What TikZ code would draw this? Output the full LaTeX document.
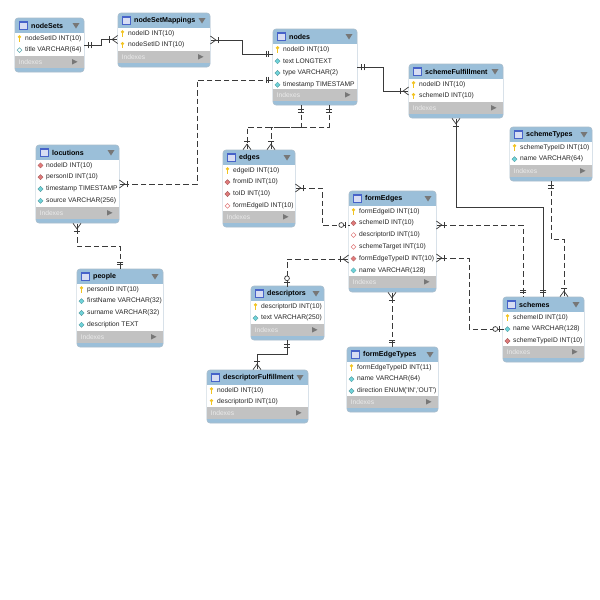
\documentclass[tikz,border=0pt]{standalone}
\usepackage{fontspec}
\usetikzlibrary{arrows.meta}
\newfontfamily\erfont{Liberation Sans}
\definecolor{erblue}{HTML}{9BBFD9}
\definecolor{ergrey}{HTML}{C2C2C2}
\definecolor{eredge}{HTML}{A9BDCB}
\definecolor{erline}{HTML}{3A3A3A}
\definecolor{eraqua}{HTML}{6FD3DA}
\definecolor{erred}{HTML}{E07A7A}
\definecolor{eryellow}{HTML}{F2C320}
\definecolor{ermark}{HTML}{777777}
\definecolor{ericon}{HTML}{4763C9}
\tikzset{
tablebody/.style={shape=rectangle,rounded corners=3pt,fill=erblue,draw=eredge,line width=.6pt,anchor=north west,inner sep=0pt,outer sep=0pt},
tabletitle/.style={anchor=west,inner sep=0pt,text=black,font=\erfont\bfseries\fontsize{7.1}{8}\selectfont},
tablerow/.style={anchor=west,inner sep=0pt,text=black!85,font=\erfont\fontsize{6.7}{8}\selectfont},
tableindex/.style={anchor=west,inner sep=0pt,text=white!92!black,font=\erfont\fontsize{6.7}{8}\selectfont},
strong/.style={draw=erline,line width=.8pt},
weak/.style={draw=erline,line width=.8pt,dash pattern=on 5.5pt off 3pt},
crow/.tip={Bar[width=6.5pt,line width=.7pt,sep=1.5pt] Rectangle[length=5.5pt,width=.7pt,sep=-5.5pt] Straight Barb[reversed,length=5.5pt,width=8pt,line width=.7pt,arc=0,sep=0pt]},
twobars/.tip={Bar[width=6.5pt,line width=.7pt,sep=2pt] Bar[width=6.5pt,line width=.7pt,sep=2.5pt] Rectangle[length=1.5pt,width=.7pt,sep=0pt]},
ringbar/.tip={Circle[open,fill=white,length=5.5pt,line width=.7pt,sep=.8pt] Bar[width=6.5pt,line width=.7pt,sep=2.5pt] Rectangle[length=1pt,width=.7pt,sep=0pt]},
keyicon/.pic={\fill[eryellow] (0,-1.6) circle (1.8);\fill[eryellow] (-.7,-1.6) rectangle (.7,3.2);},
attr/.pic={\path[fill=eraqua,draw=eraqua!70!black,line width=.25pt] (-2.6,0) -- (0,-2.6) -- (2.6,0) -- (0,2.6) -- cycle;},
attropen/.pic={\path[fill=white,draw=eraqua!80!black,line width=.5pt] (-2.4,0) -- (0,-2.4) -- (2.4,0) -- (0,2.4) -- cycle;},
fk/.pic={\path[fill=erred,draw=erred!70!black,line width=.25pt] (-2.6,0) -- (0,-2.6) -- (2.6,0) -- (0,2.6) -- cycle;},
fkopen/.pic={\path[fill=white,draw=erred,line width=.5pt] (-2.4,0) -- (0,-2.4) -- (2.4,0) -- (0,2.4) -- cycle;},
tableicon/.pic={\path[fill=ericon!22!white,draw=ericon,line width=.6pt] (0,-4) rectangle (8,4);\path[fill=ericon] (0,-4) rectangle (8,-3);},
}
\newcommand{\ertable}[7]{
\node[tablebody,minimum width=#4pt,minimum height=#5pt] (#1) at (#2,#3) {};
\fill[white] (#2+.4,#3+15) rectangle (#2+#4-.4,#3+#5-16);
\fill[ergrey] (#2+.4,#3+#5-16) rectangle (#2+#4-.4,#3+#5-4.5);
\pic at (#2+4,#3+7.5) {tableicon};
\node[tabletitle] (#1-title) at (#2+16,#3+7.7) {#6};
\fill[ermark] (#2+#4-11.5,#3+5) -- (#2+#4-4.5,#3+5) -- (#2+#4-8,#3+10.5) -- cycle;
\foreach \kind/\rowtext [count=\i] in {#7}{
\pic at (#2+4.5,#3+14.5+11.8*\i-5.9) {\kind};
\node[tablerow] (#1-\i) at (#2+10,#3+14.5+11.8*\i-5.9) {\rowtext};
}
\node[tableindex] (#1-indexes) at (#2+3.5,#3+#5-10.2) {Indexes};
\fill[ermark] (#2+#4-12,#3+#5-13) -- (#2+#4-12,#3+#5-7.5) -- (#2+#4-6.5,#3+#5-10.2) -- cycle;
}
\begin{document}
\begin{tikzpicture}[x=1pt,y=-1pt]
\useasboundingbox[fill=white] (0,0) rectangle (600,600);
\ertable{nodeSets}{15}{18}{69}{54}{nodeSets}{keyicon/nodeSetID INT(10),attropen/title VARCHAR(64)}
\ertable{nodeSetMappings}{118}{13}{92}{54}{nodeSetMappings}{keyicon/nodeID INT(10),keyicon/nodeSetID INT(10)}
\ertable{nodes}{273}{29}{84}{76}{nodes}{keyicon/nodeID INT(10),attr/text LONGTEXT,attr/type VARCHAR(2),attr/timestamp TIMESTAMP}
\ertable{schemeFulfillment}{409}{64}{94}{54}{schemeFulfillment}{keyicon/nodeID INT(10),keyicon/schemeID INT(10)}
\ertable{schemeTypes}{510}{127}{82}{54}{schemeTypes}{keyicon/schemeTypeID INT(10),attr/name VARCHAR(64)}
\ertable{locutions}{36}{145}{83}{78}{locutions}{fk/nodeID INT(10),fk/personID INT(10),attr/timestamp TIMESTAMP,attr/source VARCHAR(256)}
\ertable{edges}{223}{150}{72}{77}{edges}{keyicon/edgeID INT(10),fk/fromID INT(10),fk/toID INT(10),fkopen/formEdgeID INT(10)}
\ertable{formEdges}{349}{191}{87}{101}{formEdges}{keyicon/formEdgeID INT(10),fk/schemeID INT(10),fkopen/descriptorID INT(10),fkopen/schemeTarget INT(10),fk/formEdgeTypeID INT(10),attr/name VARCHAR(128)}
\ertable{people}{77}{269}{86}{78}{people}{keyicon/personID INT(10),attr/firstName VARCHAR(32),attr/surname VARCHAR(32),attr/description TEXT}
\ertable{descriptors}{251}{286}{73}{54}{descriptors}{keyicon/descriptorID INT(10),attr/text VARCHAR(250)}
\ertable{schemes}{503}{297}{81}{65}{schemes}{keyicon/schemeID INT(10),attr/name VARCHAR(128),fk/schemeTypeID INT(10)}
\ertable{formEdgeTypes}{347}{347}{91}{65}{formEdgeTypes}{keyicon/formEdgeTypeID INT(11),attr/name VARCHAR(64),attr/{direction ENUM('IN','OUT')}}
\ertable{descriptorFulfillment}{207}{370}{101}{53}{descriptorFulfillment}{keyicon/nodeID INT(10),keyicon/descriptorID INT(10)}
\draw[strong,{twobars}-{crow}] (nodeSets.east |- 0,45) -- ++(17,0) |- (nodeSetMappings.west |- 0,39.5);
\draw[strong,{crow}-{twobars}] (nodeSetMappings.east |- 0,40) -- ++(32,0) |- (nodes.west |- 0,54);
\draw[strong,{twobars}-{crow}] (nodes.east |- 0,67) -- ++(26,0) |- (schemeFulfillment.west |- 0,91);
\draw[weak,{twobars}-{crow}] (nodes.west |- 0,80) -- ++(-76,0) |- (locutions.east |- 0,184);
\draw[weak,{twobars}-{crow}] (nodes.south -| 301,0) -- ++(0,22) -| (edges.north -| 247,0);
\draw[weak,{twobars}-{crow}] (nodes.south -| 329,0) -- ++(0,22) -| (edges.north -| 271,0);
\draw[weak,{crow}-{ringbar}] (edges.east |- 0,188) -- ++(27,0) |- (formEdges.west |- 0,225);
\draw[weak,{crow}-{twobars}] (formEdges.east |- 0,225) -| (schemes.north -| 523,0);
\draw[weak,{crow}-{ringbar}] (formEdges.east |- 0,258) -- ++(33,0) |- (schemes.west |- 0,329);
\draw[strong,{crow}-{twobars}] (schemeFulfillment.south -| 456,0) -- ++(0,89) -| (schemes.north -| 543,0);
\draw[weak,{twobars}-{crow}] (schemeTypes.south -| 551,0) -- ++(0,58) -| (schemes.north -| 564,0);
\draw[weak,{crow}-{ringbar}] (formEdges.west |- 0,259) -| (descriptors.north -| 287,0);
\draw[weak,{crow}-{twobars}] (formEdges.south -| 392,0) -- (formEdgeTypes.north -| 392,0);
\draw[strong,{twobars}-{crow}] (descriptors.south -| 287,0) -- ++(0,14) -| (descriptorFulfillment.north -| 257,0);
\draw[weak,{crow}-{twobars}] (locutions.south -| 77,0) -- ++(0,23) -| (people.north -| 120,0);
\end{tikzpicture}
\end{document}
